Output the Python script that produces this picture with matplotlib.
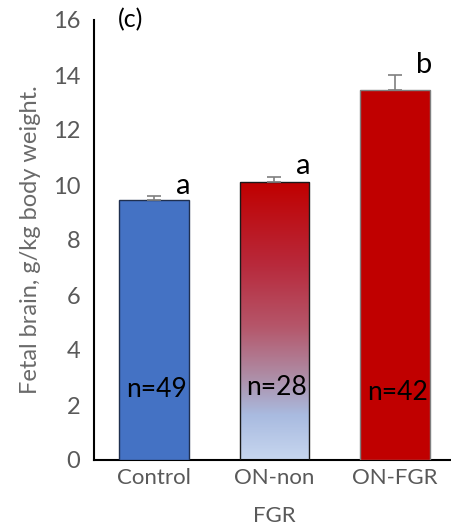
import matplotlib
matplotlib.use("Agg")
import matplotlib.pyplot as plt
import numpy as np
from matplotlib.colors import LinearSegmentedColormap

categories = ["Control", "ON-non\nFGR", "ON-FGR"]
values = [9.45, 10.1, 13.45]
errors = [0.15, 0.2, 0.55]
letters = ["a", "a", "b"]
n_labels = ["n=49", "n=28", "n=42"]
yticks = [0, 2, 4, 6, 8, 10, 12, 14, 16]

plt.rcParams['font.family'] = ['Lato', 'DejaVu Sans']
gray = "#595959"

fig = plt.figure(figsize=(4.52, 5.32), dpi=100)
ax = fig.add_axes([94/452, 1 - 460/532, (455 - 94)/452, (460 - 20)/532])
ax.set_xlim(-0.5, 2.5)
ax.set_ylim(0, 16)

x = np.arange(len(categories))
w = 0.58
face = ["#4472C4", "none", "#C00000"]
edge = ["#1f2f4f", "#1a1a1a", "#7f7f7f"]
bars = ax.bar(x, values, width=w, color=face, edgecolor=edge, linewidth=1.0, zorder=3)

# gradient for middle bar (top red -> bottom light blue)
cmap = LinearSegmentedColormap.from_list(
    "g", [(0.0, "#C00000"), (0.3, "#B82A3C"), (0.52, "#B5566A"),
          (0.7, "#AE8DA6"), (0.84, "#A9BBE0"), (1.0, "#C7D6EF")])
grad = np.linspace(0, 1, 256).reshape(-1, 1)
b = bars[1]
im = ax.imshow(grad, cmap=cmap, aspect="auto",
               extent=[b.get_x(), b.get_x() + b.get_width(), 0, b.get_height()],
               zorder=2, origin="upper")
im.set_clip_path(b)
ax.set_xlim(-0.5, 2.5)
ax.set_ylim(0, 16)

ax.errorbar(x, values, yerr=[np.zeros(3), errors], fmt="none", ecolor="#7f7f7f",
            elinewidth=1.2, capsize=5, capthick=1.2, zorder=4)

for xi, v, e, l in zip(x, values, errors, letters):
    ax.text(xi + 0.18, v + e - 0.1, l, fontsize=21, color="black", ha="left", va="bottom")

n_y = [2.55, 2.62, 2.45]
for xi, t, yy in zip(x, n_labels, n_y):
    ax.text(xi + 0.02, yy, t, fontsize=19, color="black", ha="center", va="center", zorder=5)

ax.text(-0.2, 16, "(c)", fontsize=18, color="black", ha="center", va="center")

ax.set_xticks(x)
ax.set_xticklabels(categories, fontsize=16, color=gray, linespacing=2.1)
ax.set_yticks(yticks)
ax.set_yticklabels([str(t) for t in yticks], fontsize=17, color=gray)
ax.tick_params(axis="both", length=0, pad=10)
ax.tick_params(axis="x", pad=6)
ax.set_ylabel("Fetal brain, g/kg body weight.", fontsize=17, color="#6a6a6a", labelpad=8)

for s in ["top", "right"]:
    ax.spines[s].set_visible(False)
ax.spines["left"].set_linewidth(1.5)
ax.spines["bottom"].set_linewidth(1.5)
ax.spines["left"].set_color("black")
ax.spines["bottom"].set_color("black")

fig.savefig("out.png", dpi=100)
